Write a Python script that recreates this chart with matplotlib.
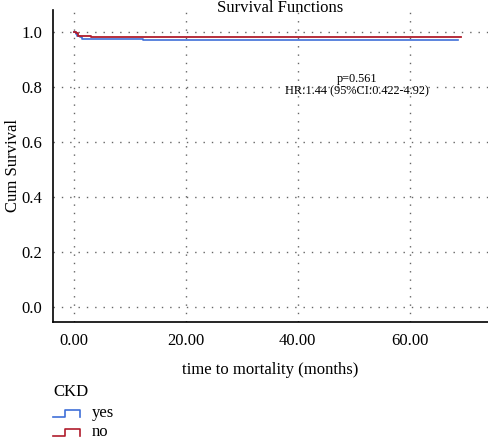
import matplotlib
matplotlib.use("Agg")
import matplotlib.pyplot as plt
from matplotlib.lines import Line2D

plt.rcParams["font.family"] = ["Liberation Serif", "DejaVu Serif"]

# Kaplan-Meier step data (months, cum survival)
yes_t = [0.0, 0.3, 0.6, 1.0, 1.5, 12.3, 68.6]
yes_s = [1.0, 0.994, 0.987, 0.980, 0.974, 0.970, 0.970]
no_t = [0.0, 0.3, 0.7, 3.0, 16.0, 69.1]
no_s = [1.0, 0.995, 0.986, 0.983, 0.981, 0.981]

x_ticks = [0, 20, 40, 60]
x_labels = ["0.00", "20.00", "40.00", "60.00"]
y_ticks = [0.0, 0.2, 0.4, 0.6, 0.8, 1.0]

BLUE = "#3f6fd8"
RED = "#b01c2c"
FS = 12

fig = plt.figure(figsize=(4.88, 4.37), dpi=100)
ax = fig.add_axes([53 / 488, 115 / 437, 1 - 53 / 488, 312 / 437])

ax.step(yes_t, yes_s, where="post", color=BLUE, lw=1.2, zorder=3)
ax.step(no_t, no_s, where="post", color=RED, lw=1.3, zorder=3)

ax.set_xlim(-3.75, 74.0)
ax.set_ylim(-0.055, 1.08)
ax.set_xticks(x_ticks)
ax.set_xticklabels(x_labels)
ax.set_yticks(y_ticks)
ax.set_yticklabels([f"{v:.1f}" for v in y_ticks])
ax.tick_params(length=0, labelsize=FS, pad=8)
ax.grid(True, color="#666666", linestyle=(0, (1, 5)), linewidth=1.0)

for s in ("top", "right"):
    ax.spines[s].set_visible(False)
for s in ("left", "bottom"):
    ax.spines[s].set_linewidth(1.2)

ax.set_xlabel("time to mortality (months)", fontsize=FS, labelpad=9)
fig.text(13 / 488, 1 - 166 / 437, "Cum Survival", rotation=90, ha="center",
         va="center", fontsize=FS)
fig.text(280 / 488, 1 - 8 / 437, "Survival Functions", ha="center", va="center",
         fontsize=FS)

fig.text(357 / 488, 1 - 79 / 437, "p=0.561", ha="center", va="center", fontsize=8.8)
fig.text(357 / 488, 1 - 91 / 437, "HR:1.44 (95%CI:0.422-4.92)", ha="center",
         va="center", fontsize=8.8)

# legend below the axes
fig.text(53 / 488, 1 - 392 / 437, "CKD", ha="left", va="center", fontsize=FS)
for y, col, lab in [(417, BLUE, "yes"), (436, RED, "no")]:
    xs = [53, 65, 65, 80, 80]
    ys = [y, y, y - 7, y - 7, y]
    fig.add_artist(Line2D([v / 488 for v in xs], [1 - v / 437 for v in ys],
                          color=col, lw=1.2, transform=fig.transFigure))
    fig.text(92 / 488, 1 - (y - 4) / 437, lab, ha="left", va="center", fontsize=FS)

fig.savefig("out.png", dpi=100)
